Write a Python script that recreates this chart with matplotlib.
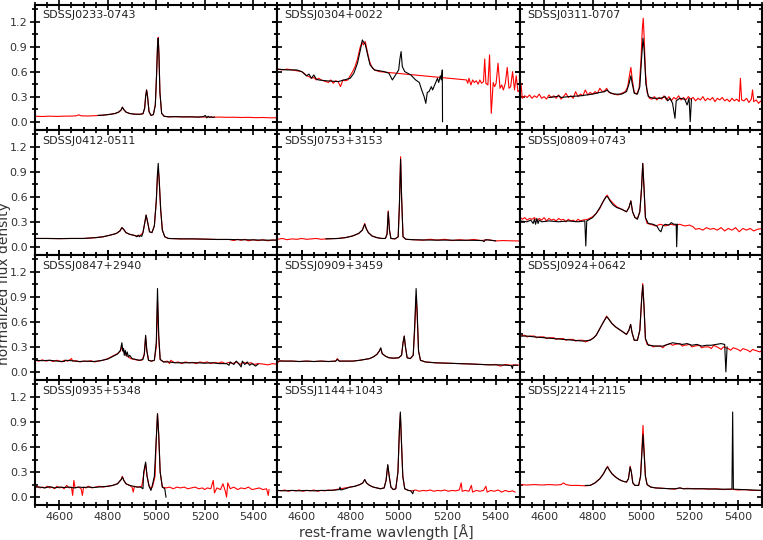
import matplotlib
matplotlib.use("Agg")
import matplotlib.pyplot as plt
from matplotlib.ticker import MultipleLocator

# spectra: (rest wavelength [A], normalized flux)
NAMES = ["SDSSJ0233-0743", "SDSSJ0304+0022", "SDSSJ0311-0707",
         "SDSSJ0412-0511", "SDSSJ0753+3153", "SDSSJ0809+0743",
         "SDSSJ0847+2940", "SDSSJ0909+3459", "SDSSJ0924+0642",
         "SDSSJ0935+5348", "SDSSJ1144+1043", "SDSSJ2214+2115"]

RED_0233 = [(4500,0.065),(4530,0.062),(4560,0.066),(4590,0.063),(4620,0.066),(4650,0.067),(4670,0.07),(4680,0.082),
            (4690,0.07),(4720,0.068),(4750,0.072),(4780,0.078),(4810,0.088),(4830,0.098),(4845,0.115),(4855,0.14),
            (4860,0.17),(4866,0.145),(4875,0.115),(4890,0.098),(4910,0.09),(4930,0.088),(4945,0.095),(4952,0.16),
            (4956,0.3),(4960,0.38),(4964,0.3),(4970,0.12),(4978,0.075),(4988,0.085),(4996,0.2),(5001,0.55),(5005,0.9),
            (5008,1.01),(5011,0.8),(5015,0.35),(5022,0.1),(5032,0.065),(5050,0.058),(5080,0.06),(5110,0.057),
            (5140,0.058),(5170,0.055),(5200,0.056),(5230,0.054),(5260,0.055),(5290,0.052),(5320,0.053),(5350,0.05),
            (5380,0.052),(5410,0.048),(5440,0.05),(5470,0.046),(5500,0.047)]
BLK_0233 = [(4760,0.075),(4780,0.078),(4810,0.088),(4830,0.098),(4845,0.115),(4855,0.14),(4860,0.175),(4866,0.145),
            (4875,0.115),(4890,0.098),(4910,0.09),(4930,0.088),(4945,0.095),(4952,0.16),(4956,0.3),(4960,0.38),
            (4964,0.3),(4970,0.12),(4978,0.075),(4988,0.085),(4996,0.2),(5001,0.55),(5005,0.9),(5008,1.0),(5011,0.8),
            (5015,0.35),(5022,0.1),(5032,0.065),(5050,0.058),(5080,0.06),(5110,0.057),(5140,0.058),(5170,0.055),
            (5195,0.06),(5202,0.075),(5208,0.045),(5214,0.065),(5220,0.05),(5226,0.06),(5232,0.05),(5240,0.055)]

RED_0304 = [(4500,0.63),(4520,0.62),(4540,0.63),(4560,0.62),(4580,0.61),(4600,0.6),(4610,0.58),(4620,0.55),
            (4630,0.54),(4640,0.52),(4650,0.53),(4660,0.5),(4670,0.52),(4680,0.5),(4690,0.49),(4700,0.48),
            (4710,0.47),(4720,0.5),(4730,0.46),(4740,0.49),(4750,0.48),(4760,0.42),(4770,0.5),(4780,0.49),
            (4790,0.5),(4800,0.55),(4810,0.6),(4820,0.66),(4830,0.75),(4840,0.88),(4848,0.95),(4855,0.92),
            (4862,0.96),(4870,0.85),(4880,0.72),(4890,0.65),(4900,0.62),(4910,0.61),(4920,0.6),(5280,0.5),
            (5285,0.46),(5290,0.52),(5298,0.44),(5305,0.5),(5312,0.47),(5320,0.49),(5328,0.45),(5335,0.5),
            (5342,0.46),(5350,0.48),(5355,0.75),(5360,0.46),(5368,0.44),(5375,0.8),(5382,0.1),(5390,0.47),
            (5396,0.42),(5402,0.46),(5410,0.7),(5418,0.4),(5425,0.44),(5432,0.38),(5440,0.46),(5448,0.65),
            (5455,0.4),(5462,0.42),(5470,0.6),(5478,0.38),(5485,0.55),(5492,0.36),(5500,0.38)]
BLK_0304 = [(4500,0.63),(4540,0.62),(4580,0.62),(4600,0.6),(4620,0.55),(4630,0.57),(4640,0.52),(4650,0.56),
            (4660,0.51),(4670,0.5),(4700,0.49),(4750,0.48),(4800,0.52),(4815,0.58),(4830,0.7),(4845,0.9),
            (4850,0.98),(4856,0.95),(4862,0.93),(4872,0.8),(4882,0.68),(4900,0.62),(4940,0.6),(4960,0.58),
            (4974,0.5),(4985,0.55),(5000,0.62),(5005,0.75),(5010,0.84),(5015,0.66),(5025,0.6),(5050,0.56),
            (5070,0.5),(5085,0.47),(5095,0.38),(5105,0.3),(5112,0.22),(5118,0.35),(5125,0.36),(5135,0.42),
            (5140,0.38),(5150,0.45),(5160,0.52),(5165,0.47),(5172,0.55),(5176,0.5),(5180,0.62),(5181,0.0)]

RED_0311 = [(4500,0.3),(4505,0.45),(4510,0.28),(4520,0.31),(4530,0.29),(4540,0.32),(4550,0.28),(4560,0.31),
            (4570,0.29),(4580,0.33),(4590,0.28),(4600,0.3),(4610,0.27),(4620,0.32),(4630,0.29),(4640,0.31),
            (4650,0.28),(4660,0.32),(4670,0.27),(4680,0.3),(4690,0.34),(4700,0.29),(4710,0.31),(4720,0.28),
            (4730,0.36),(4740,0.3),(4750,0.33),(4760,0.31),(4770,0.38),(4780,0.32),(4790,0.35),(4800,0.33),
            (4810,0.36),(4820,0.34),(4830,0.4),(4840,0.36),(4850,0.37),(4858,0.4),(4865,0.36),(4875,0.34),
            (4890,0.33),(4905,0.32),(4920,0.34),(4935,0.36),(4945,0.42),(4952,0.55),(4958,0.65),(4964,0.5),
            (4972,0.35),(4982,0.33),(4992,0.4),(5000,0.75),(5005,1.1),(5009,1.24),(5013,1.0),(5018,0.6),
            (5025,0.35),(5035,0.28),(5045,0.27),(5055,0.3),(5065,0.26),(5075,0.29),(5085,0.27),(5095,0.31),
            (5105,0.26),(5115,0.3),(5125,0.25),(5135,0.29),(5145,0.27),(5155,0.31),(5165,0.26),(5175,0.29),
            (5185,0.26),(5195,0.3),(5205,0.27),(5215,0.29),(5225,0.25),(5235,0.28),(5245,0.26),(5255,0.3),
            (5265,0.25),(5275,0.28),(5285,0.26),(5295,0.29),(5305,0.24),(5315,0.28),(5325,0.26),(5335,0.29),
            (5345,0.25),(5355,0.27),(5365,0.24),(5375,0.28),(5385,0.25),(5395,0.27),(5405,0.24),(5410,0.52),
            (5415,0.26),(5425,0.25),(5435,0.28),(5445,0.23),(5455,0.27),(5460,0.38),(5465,0.24),(5475,0.26),
            (5485,0.22),(5495,0.25),(5500,0.24)]
BLK_0311 = [(4620,0.29),(4650,0.3),(4660,0.31),(4670,0.29),(4700,0.3),(4750,0.31),(4800,0.33),(4830,0.35),
            (4850,0.36),(4860,0.38),(4870,0.35),(4890,0.33),(4920,0.33),(4940,0.36),(4950,0.45),(4958,0.55),
            (4964,0.45),(4972,0.34),(4985,0.33),(4995,0.42),(5002,0.75),(5008,1.0),(5013,0.85),(5020,0.45),
            (5030,0.3),(5050,0.28),(5080,0.28),(5100,0.3),(5110,0.25),(5120,0.28),(5130,0.22),(5140,0.04),
            (5145,0.25),(5160,0.28),(5180,0.27),(5190,0.2),(5198,0.28),(5203,0.0),(5208,0.27)]

RED_0412 = [(4500,0.1),(4550,0.1),(4600,0.098),(4650,0.1),(4700,0.1),(4750,0.11),(4780,0.12),(4810,0.14),
            (4835,0.16),(4850,0.19),(4858,0.23),(4865,0.21),(4875,0.17),(4890,0.15),(4905,0.14),(4920,0.13),
            (4935,0.14),(4945,0.17),(4952,0.28),(4958,0.38),(4964,0.3),(4972,0.18),(4982,0.17),(4992,0.25),
            (5000,0.55),(5005,0.85),(5008,0.93),(5012,0.8),(5018,0.45),(5025,0.2),(5035,0.12),(5050,0.1),
            (5100,0.095),(5150,0.095),(5200,0.092),(5250,0.088),(5300,0.088),(5320,0.075),(5335,0.09),
            (5350,0.078),(5365,0.09),(5380,0.072),(5400,0.085),(5420,0.074),(5440,0.085),(5460,0.072),
            (5480,0.082),(5500,0.08)]
BLK_0412 = [(4500,0.1),(4550,0.1),(4600,0.098),(4650,0.1),(4700,0.1),(4750,0.11),(4780,0.12),(4810,0.14),
            (4835,0.16),(4850,0.19),(4858,0.23),(4865,0.21),(4875,0.17),(4890,0.15),(4905,0.14),(4915,0.13),
            (4920,0.12),(4925,0.14),(4930,0.12),(4935,0.135),(4940,0.125),(4945,0.17),(4952,0.28),(4958,0.38),
            (4964,0.3),(4972,0.18),(4982,0.17),(4992,0.25),(5000,0.55),(5005,0.88),(5008,1.0),(5012,0.8),
            (5018,0.45),(5025,0.2),(5035,0.12),(5050,0.1),(5100,0.095),(5150,0.095),(5200,0.092),(5250,0.088),
            (5300,0.088),(5350,0.085),(5400,0.083),(5450,0.08),(5500,0.08)]

RED_0753 = [(4500,0.09),(4520,0.1),(4540,0.085),(4560,0.095),(4580,0.09),(4600,0.1),(4620,0.09),(4640,0.095),
            (4660,0.1),(4680,0.09),(4700,0.095),(4750,0.1),(4780,0.11),(4810,0.13),(4835,0.16),(4850,0.2),
            (4860,0.28),(4866,0.22),(4875,0.17),(4890,0.13),(4910,0.11),(4930,0.1),(4945,0.1),(4952,0.15),
            (4957,0.43),(4962,0.2),(4968,0.1),(4985,0.095),(4998,0.12),(5003,0.5),(5008,1.08),(5012,0.6),
            (5018,0.12),(5030,0.09),(5060,0.085),(5100,0.08),(5130,0.09),(5160,0.08),(5190,0.09),(5220,0.075),
            (5250,0.085),(5280,0.078),(5310,0.088),(5340,0.075),(5370,0.085),(5400,0.07),(5430,0.075),
            (5460,0.072),(5500,0.07)]
BLK_0753 = [(4700,0.095),(4750,0.1),(4780,0.11),(4810,0.13),(4835,0.16),(4850,0.2),(4860,0.27),(4866,0.22),
            (4875,0.17),(4890,0.13),(4910,0.11),(4930,0.1),(4945,0.1),(4952,0.15),(4957,0.42),(4962,0.2),
            (4968,0.1),(4985,0.095),(4998,0.12),(5003,0.5),(5008,1.05),(5012,0.6),(5018,0.12),(5030,0.09),
            (5060,0.085),(5100,0.082),(5150,0.08),(5200,0.08),(5250,0.078),(5300,0.078),(5345,0.075),
            (5352,0.062),(5358,0.085),(5400,0.072)]

RED_0809 = [(4500,0.36),(4510,0.33),(4520,0.35),(4530,0.32),(4540,0.34),(4550,0.33),(4560,0.35),(4570,0.31),
            (4580,0.34),(4590,0.32),(4600,0.35),(4610,0.31),(4620,0.34),(4630,0.32),(4640,0.33),(4650,0.31),
            (4660,0.34),(4670,0.32),(4680,0.33),(4690,0.3),(4700,0.33),(4710,0.31),(4720,0.32),(4730,0.3),
            (4740,0.33),(4750,0.31),(4760,0.32),(4780,0.33),(4800,0.36),(4815,0.4),(4830,0.46),(4845,0.55),
            (4855,0.6),(4860,0.62),(4870,0.57),(4885,0.52),(4900,0.48),(4920,0.45),(4940,0.42),(4950,0.47),
            (4958,0.55),(4965,0.42),(4975,0.35),(4985,0.34),(4995,0.42),(5002,0.7),(5007,1.0),(5012,0.72),
            (5018,0.35),(5025,0.28),(5040,0.27),(5060,0.25),(5080,0.27),(5100,0.25),(5120,0.27),(5140,0.26),
            (5160,0.27),(5180,0.25),(5200,0.26),(5215,0.24),(5225,0.21),(5240,0.22),(5255,0.2),(5270,0.23),
            (5285,0.21),(5300,0.22),(5315,0.2),(5330,0.23),(5345,0.19),(5360,0.22),(5375,0.2),(5390,0.23),
            (5405,0.18),(5420,0.22),(5435,0.2),(5450,0.22),(5465,0.19),(5480,0.21),(5500,0.22)]
BLK_0809 = [(4500,0.31),(4530,0.3),(4545,0.32),(4555,0.28),(4560,0.33),(4565,0.27),(4570,0.34),(4575,0.28),
            (4580,0.32),(4590,0.3),(4620,0.31),(4660,0.3),(4700,0.31),(4740,0.3),(4768,0.31),(4772,0.01),
            (4776,0.31),(4800,0.35),(4815,0.4),(4830,0.47),(4845,0.55),(4856,0.6),(4862,0.6),(4872,0.55),
            (4885,0.5),(4900,0.47),(4920,0.45),(4940,0.42),(4950,0.47),(4958,0.55),(4965,0.42),(4975,0.35),
            (4985,0.33),(4995,0.42),(5002,0.7),(5007,1.0),(5012,0.72),(5018,0.35),(5030,0.28),(5050,0.27),
            (5065,0.25),(5075,0.2),(5082,0.18),(5090,0.25),(5100,0.27),(5115,0.26),(5125,0.29),(5135,0.27),
            (5145,0.27),(5147,0.0),(5150,0.27)]

RED_0847 = [(4500,0.14),(4515,0.13),(4530,0.145),(4545,0.13),(4560,0.14),(4575,0.125),(4590,0.14),(4600,0.13),
            (4610,0.12),(4620,0.14),(4635,0.13),(4650,0.16),(4655,0.13),(4670,0.135),(4685,0.12),(4700,0.13),
            (4715,0.125),(4730,0.135),(4745,0.12),(4760,0.13),(4780,0.14),(4800,0.16),(4820,0.19),(4840,0.22),
            (4852,0.25),(4858,0.3),(4862,0.26),(4870,0.22),(4880,0.19),(4895,0.16),(4910,0.15),(4925,0.14),
            (4940,0.14),(4950,0.2),(4956,0.42),(4961,0.25),(4968,0.14),(4980,0.13),(4992,0.14),(5000,0.3),
            (5005,0.85),(5010,0.4),(5016,0.15),(5030,0.12),(5045,0.13),(5055,0.1),(5060,0.14),(5075,0.11),
            (5090,0.12),(5105,0.1),(5120,0.12),(5135,0.11),(5150,0.115),(5165,0.1),(5180,0.12),(5195,0.11),
            (5210,0.12),(5225,0.1),(5240,0.115),(5255,0.105),(5270,0.12),(5285,0.1),(5300,0.115),(5315,0.1),
            (5330,0.12),(5345,0.09),(5360,0.115),(5375,0.1),(5390,0.11),(5405,0.09),(5420,0.1),(5440,0.095),
            (5460,0.085),(5480,0.1),(5500,0.09)]
BLK_0847 = [(4500,0.14),(4530,0.135),(4560,0.14),(4590,0.13),(4620,0.125),(4625,0.14),(4650,0.135),(4680,0.125),
            (4710,0.13),(4740,0.125),(4770,0.135),(4800,0.155),(4820,0.185),(4840,0.215),(4852,0.26),(4858,0.35),
            (4862,0.25),(4865,0.28),(4868,0.2),(4872,0.26),(4876,0.19),(4880,0.24),(4885,0.18),(4890,0.2),
            (4900,0.16),(4915,0.15),(4930,0.14),(4945,0.15),(4951,0.22),(4956,0.44),(4961,0.26),(4968,0.14),
            (4980,0.13),(4992,0.14),(5000,0.35),(5005,1.0),(5010,0.45),(5016,0.15),(5030,0.12),(5050,0.12),
            (5080,0.11),(5110,0.11),(5140,0.11),(5170,0.11),(5200,0.105),(5230,0.11),(5260,0.1),(5290,0.1),
            (5300,0.08),(5305,0.12),(5320,0.09),(5330,0.13),(5340,0.1),(5350,0.06),(5355,0.13),(5365,0.09),
            (5375,0.12),(5385,0.08),(5395,0.1),(5410,0.07),(5420,0.095)]

RED_0909 = [(4500,0.11),(4510,0.135),(4530,0.13),(4560,0.13),(4590,0.125),(4620,0.13),(4650,0.125),(4680,0.13),
            (4710,0.125),(4740,0.13),(4747,0.16),(4755,0.13),(4780,0.13),(4810,0.13),(4840,0.14),(4860,0.15),
            (4880,0.16),(4895,0.18),(4910,0.21),(4920,0.25),(4926,0.28),(4932,0.22),(4945,0.19),(4960,0.17),
            (4980,0.165),(5000,0.17),(5012,0.2),(5018,0.35),(5023,0.43),(5028,0.3),(5035,0.17),(5048,0.16),
            (5060,0.2),(5066,0.5),(5072,0.9),(5076,0.7),(5082,0.25),(5090,0.14),(5110,0.12),(5150,0.11),
            (5200,0.105),(5250,0.1),(5300,0.095),(5340,0.09),(5370,0.085),(5400,0.09),(5420,0.07),(5440,0.09),
            (5460,0.08),(5480,0.085),(5500,0.08)]
BLK_0909 = [(4500,0.13),(4530,0.13),(4560,0.13),(4590,0.125),(4620,0.13),(4650,0.125),(4680,0.13),(4710,0.125),
            (4740,0.13),(4747,0.15),(4755,0.13),(4780,0.13),(4810,0.13),(4840,0.14),(4860,0.15),(4880,0.16),
            (4895,0.18),(4910,0.21),(4920,0.25),(4926,0.29),(4932,0.22),(4945,0.19),(4960,0.17),(4980,0.165),
            (5000,0.17),(5012,0.2),(5018,0.35),(5023,0.43),(5028,0.3),(5035,0.17),(5048,0.16),(5060,0.2),
            (5066,0.55),(5072,1.0),(5076,0.75),(5082,0.25),(5090,0.14),(5110,0.12),(5150,0.11),(5200,0.105),
            (5250,0.1),(5300,0.095),(5340,0.09),(5380,0.085),(5420,0.085),(5450,0.08),(5465,0.075),(5469,0.04),
            (5472,0.08),(5490,0.08)]

RED_0924 = [(4500,0.43),(4520,0.44),(4530,0.42),(4540,0.43),(4560,0.43),(4570,0.41),(4580,0.42),(4600,0.42),
            (4610,0.4),(4620,0.41),(4640,0.41),(4650,0.39),(4660,0.4),(4680,0.4),(4690,0.38),(4700,0.39),
            (4720,0.39),(4730,0.37),(4740,0.38),(4760,0.38),(4770,0.36),(4780,0.37),(4800,0.4),(4815,0.44),
            (4830,0.52),(4845,0.6),(4858,0.67),(4865,0.64),(4880,0.58),(4895,0.54),(4910,0.51),(4925,0.48),
            (4940,0.45),(4950,0.5),(4957,0.57),(4963,0.47),(4972,0.38),(4985,0.38),(4995,0.5),(5002,0.85),
            (5007,1.06),(5012,0.8),(5018,0.4),(5025,0.33),(5040,0.32),(5050,0.3),(5060,0.31),(5080,0.31),
            (5090,0.29),(5100,0.32),(5120,0.34),(5130,0.32),(5140,0.33),(5160,0.34),(5170,0.31),(5180,0.32),
            (5200,0.33),(5210,0.3),(5220,0.31),(5240,0.32),(5250,0.29),(5260,0.3),(5280,0.3),(5290,0.28),
            (5300,0.32),(5320,0.29),(5330,0.27),(5340,0.3),(5360,0.28),(5370,0.26),(5380,0.29),(5400,0.27),
            (5410,0.25),(5420,0.28),(5440,0.26),(5450,0.24),(5460,0.27),(5480,0.25),(5490,0.24),(5500,0.26)]
BLK_0924 = [(4500,0.43),(4530,0.43),(4560,0.42),(4600,0.41),(4640,0.4),(4680,0.39),(4720,0.38),(4760,0.37),
            (4790,0.38),(4805,0.41),(4815,0.44),(4830,0.52),(4845,0.6),(4858,0.66),(4865,0.64),(4880,0.58),
            (4895,0.54),(4910,0.51),(4925,0.48),(4940,0.45),(4950,0.5),(4957,0.57),(4963,0.47),(4972,0.38),
            (4985,0.38),(4995,0.5),(5002,0.85),(5007,1.04),(5012,0.8),(5018,0.4),(5030,0.32),(5060,0.31),
            (5090,0.31),(5110,0.33),(5130,0.35),(5150,0.34),(5170,0.33),(5190,0.34),(5210,0.32),(5230,0.33),
            (5250,0.31),(5270,0.32),(5290,0.32),(5310,0.33),(5330,0.34),(5345,0.33),(5350,0.0),(5355,0.3)]

RED_0935 = [(4500,0.12),(4510,0.13),(4520,0.11),(4530,0.12),(4540,0.11),(4550,0.13),(4560,0.11),(4570,0.12),
            (4580,0.1),(4590,0.13),(4600,0.11),(4610,0.12),(4620,0.1),(4630,0.14),(4640,0.11),(4650,0.12),
            (4655,0.02),(4660,0.2),(4665,0.11),(4680,0.12),(4690,0.1),(4695,0.02),(4700,0.12),(4710,0.11),
            (4720,0.13),(4735,0.11),(4750,0.12),(4765,0.13),(4780,0.12),(4800,0.13),(4820,0.14),(4840,0.16),
            (4855,0.21),(4860,0.25),(4866,0.2),(4875,0.16),(4890,0.14),(4900,0.12),(4905,0.06),(4910,0.13),
            (4925,0.12),(4940,0.13),(4950,0.3),(4956,0.4),(4962,0.25),(4970,0.14),(4978,0.1),(4985,0.13),
            (4995,0.25),(5000,0.7),(5005,1.0),(5010,0.75),(5016,0.3),(5025,0.12),(5040,0.11),(5055,0.12),
            (5070,0.1),(5085,0.12),(5100,0.11),(5115,0.12),(5130,0.1),(5145,0.11),(5160,0.12),(5175,0.1),
            (5190,0.11),(5200,0.09),(5210,0.11),(5225,0.1),(5235,0.2),(5240,0.05),(5250,0.11),(5265,0.09),
            (5275,0.16),(5285,0.07),(5290,0.0),(5295,0.17),(5305,0.1),(5320,0.12),(5335,0.09),(5350,0.11),
            (5365,0.1),(5380,0.12),(5395,0.09),(5410,0.1),(5425,0.11),(5440,0.09),(5455,0.1),(5462,0.02),
            (5465,0.09)]
BLK_0935 = [(4500,0.12),(4520,0.12),(4540,0.11),(4560,0.125),(4580,0.11),(4600,0.12),(4620,0.115),(4640,0.12),
            (4660,0.11),(4680,0.12),(4700,0.115),(4720,0.12),(4740,0.115),(4760,0.12),(4780,0.125),(4800,0.13),
            (4820,0.14),(4840,0.16),(4855,0.21),(4860,0.24),(4866,0.2),(4875,0.16),(4890,0.14),(4905,0.13),
            (4920,0.12),(4935,0.12),(4945,0.1),(4948,0.3),(4956,0.42),(4962,0.25),(4970,0.13),(4978,0.08),
            (4982,0.12),(4992,0.25),(5000,0.7),(5005,1.0),(5010,0.75),(5016,0.3),(5025,0.12),(5035,0.1),
            (5040,0.0)]

RED_1144 = [(4500,0.08),(4515,0.075),(4530,0.085),(4545,0.07),(4560,0.08),(4575,0.075),(4590,0.085),(4605,0.07),
            (4620,0.08),(4635,0.075),(4650,0.085),(4665,0.07),(4680,0.08),(4695,0.075),(4710,0.085),(4725,0.08),
            (4740,0.09),(4760,0.1),(4780,0.11),(4800,0.12),(4820,0.13),(4840,0.15),(4852,0.17),(4860,0.21),
            (4867,0.17),(4880,0.14),(4895,0.12),(4910,0.11),(4925,0.1),(4940,0.11),(4948,0.2),(4955,0.38),
            (4961,0.25),(4968,0.12),(4978,0.09),(4988,0.1),(4997,0.3),(5003,0.8),(5007,1.0),(5011,0.7),
            (5017,0.25),(5025,0.1),(5040,0.08),(5055,0.075),(5070,0.085),(5085,0.07),(5100,0.08),(5115,0.075),
            (5130,0.085),(5145,0.07),(5160,0.08),(5175,0.075),(5190,0.085),(5205,0.07),(5220,0.08),(5235,0.075),
            (5250,0.085),(5258,0.17),(5262,0.07),(5275,0.08),(5290,0.07),(5300,0.14),(5305,0.06),(5320,0.08),
            (5335,0.07),(5350,0.08),(5360,0.13),(5365,0.06),(5380,0.08),(5395,0.07),(5410,0.085),(5425,0.06),
            (5440,0.08),(5455,0.065),(5470,0.075),(5480,0.06)]
BLK_1144 = [(4500,0.08),(4530,0.075),(4560,0.08),(4590,0.075),(4620,0.08),(4650,0.075),(4680,0.08),(4710,0.08),
            (4740,0.085),(4755,0.09),(4758,0.12),(4761,0.085),(4780,0.1),(4800,0.12),(4820,0.13),(4840,0.15),
            (4852,0.17),(4860,0.21),(4867,0.17),(4880,0.14),(4895,0.12),(4910,0.11),(4925,0.1),(4940,0.11),
            (4948,0.2),(4955,0.39),(4961,0.25),(4968,0.12),(4978,0.09),(4988,0.1),(4997,0.3),(5003,0.8),
            (5007,1.02),(5011,0.7),(5017,0.25),(5025,0.1),(5040,0.08),(5050,0.075),(5058,0.04),(5062,0.075)]

RED_2214 = [(4500,0.15),(4530,0.145),(4560,0.15),(4590,0.145),(4620,0.15),(4650,0.145),(4670,0.15),(4680,0.17),
            (4690,0.15),(4710,0.14),(4740,0.14),(4770,0.135),(4790,0.14),(4810,0.17),(4830,0.22),(4845,0.28),
            (4856,0.34),(4862,0.37),(4868,0.33),(4880,0.28),(4895,0.24),(4910,0.21),(4925,0.19),(4940,0.18),
            (4948,0.22),(4955,0.37),(4960,0.3),(4966,0.17),(4975,0.14),(4990,0.14),(4998,0.25),(5004,0.6),
            (5008,0.86),(5012,0.6),(5018,0.25),(5025,0.15),(5040,0.12),(5060,0.11),(5090,0.105),(5120,0.1),
            (5140,0.095),(5160,0.11),(5175,0.1),(5190,0.105),(5220,0.1),(5250,0.1),(5280,0.095),(5310,0.1),
            (5340,0.09),(5370,0.095),(5400,0.085),(5430,0.09),(5460,0.08),(5500,0.08)]
BLK_2214 = [(4770,0.14),(4790,0.14),(4810,0.17),(4830,0.22),(4845,0.28),(4856,0.34),(4862,0.36),(4868,0.33),
            (4880,0.28),(4895,0.24),(4910,0.21),(4925,0.19),(4940,0.18),(4948,0.22),(4955,0.36),(4960,0.3),
            (4966,0.17),(4975,0.14),(4990,0.14),(4998,0.25),(5004,0.55),(5008,0.75),(5012,0.55),(5018,0.25),
            (5025,0.15),(5040,0.12),(5060,0.11),(5090,0.105),(5120,0.1),(5140,0.1),(5160,0.11),(5175,0.1),
            (5200,0.1),(5260,0.1),(5320,0.095),(5375,0.095),(5378,1.02),(5381,0.095),(5420,0.09),(5460,0.085),
            (5500,0.08)]

RED = [RED_0233, RED_0304, RED_0311, RED_0412, RED_0753, RED_0809,
       RED_0847, RED_0909, RED_0924, RED_0935, RED_1144, RED_2214]
BLK = [BLK_0233, BLK_0304, BLK_0311, BLK_0412, BLK_0753, BLK_0809,
       BLK_0847, BLK_0909, BLK_0924, BLK_0935, BLK_1144, BLK_2214]

fig, axes = plt.subplots(4, 3, figsize=(7.63, 5.4), dpi=100, sharex=True, sharey=True)
fig.subplots_adjust(left=0.046, right=0.999, top=0.991, bottom=0.064, hspace=0, wspace=0)

for i, ax in enumerate(axes.flat):
    rw, rf = zip(*RED[i])
    bw, bf = zip(*BLK[i])
    ax.plot(rw, rf, color="red", lw=0.8)
    ax.plot(bw, bf, color="black", lw=0.8)
    ax.text(0.03, 0.955, NAMES[i], transform=ax.transAxes, ha="left", va="top",
            fontsize=8, color="#222222")
    ax.set_xlim(4500, 5500)
    ax.set_ylim(-0.1, 1.4)
    ax.xaxis.set_major_locator(MultipleLocator(200))
    ax.xaxis.set_minor_locator(MultipleLocator(50))
    ax.yaxis.set_major_locator(MultipleLocator(0.3))
    ax.yaxis.set_minor_locator(MultipleLocator(0.15))
    ax.tick_params(which="both", direction="inout", top=True, right=True,
                   width=1.2, labelsize=8, labelcolor="#333333")
    ax.tick_params(which="major", length=7)
    ax.tick_params(which="minor", length=4)
    ax.tick_params(axis="x", which="major", pad=1)
    ax.tick_params(axis="y", which="major", pad=2)
    for sp in ax.spines.values():
        sp.set_linewidth(1.5)

fig.text(0.506, 0.0, "rest-frame wavlength [Å]", ha="center", va="bottom", fontsize=10, color="#333333")
fig.text(-0.004, 0.475, "normalized flux density", rotation=90, ha="left", va="center",
         fontsize=10, color="#333333")
fig.savefig("out.png", dpi=100)
